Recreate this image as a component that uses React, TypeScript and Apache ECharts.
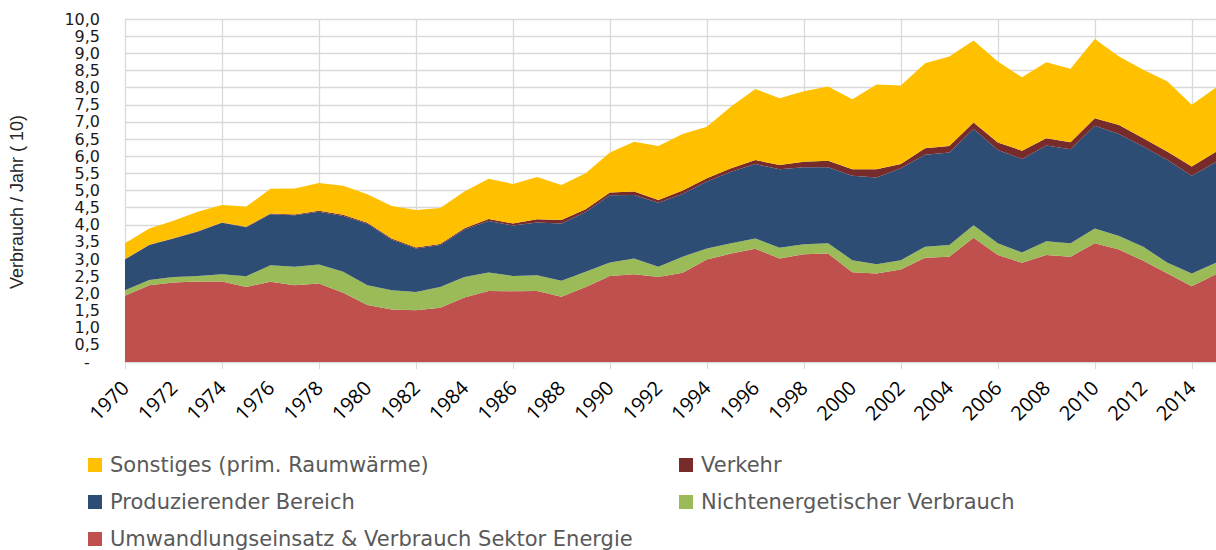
import React, { useEffect, useRef } from "react";
import * as echarts from "echarts";

const years: string[] = [];
for (let y = 1970; y <= 2015; y++) years.push(String(y));

const umwandlung = [
  1.93, 2.24, 2.32, 2.35, 2.35, 2.19, 2.34, 2.24, 2.29, 2.02,
  1.66, 1.53, 1.51, 1.58, 1.88, 2.07, 2.06, 2.07, 1.90, 2.19,
  2.51, 2.56, 2.48, 2.60, 2.99, 3.16, 3.30, 3.02, 3.14, 3.16,
  2.62, 2.58, 2.70, 3.04, 3.07, 3.62, 3.12, 2.89, 3.12, 3.07,
  3.46, 3.28, 2.95, 2.58, 2.21, 2.56,
];
const nichtenergetisch = [
  0.16, 0.15, 0.16, 0.16, 0.21, 0.31, 0.48, 0.54, 0.55, 0.61,
  0.58, 0.56, 0.53, 0.61, 0.60, 0.54, 0.45, 0.46, 0.47, 0.44,
  0.39, 0.46, 0.30, 0.47, 0.32, 0.30, 0.30, 0.31, 0.29, 0.30,
  0.35, 0.27, 0.27, 0.32, 0.34, 0.37, 0.34, 0.30, 0.40, 0.39,
  0.43, 0.39, 0.41, 0.31, 0.37, 0.33,
];
const produzierend = [
  0.90, 1.02, 1.12, 1.29, 1.50, 1.43, 1.49, 1.50, 1.54, 1.63,
  1.79, 1.48, 1.27, 1.22, 1.38, 1.50, 1.47, 1.54, 1.67, 1.74,
  1.96, 1.85, 1.86, 1.83, 1.95, 2.09, 2.17, 2.29, 2.25, 2.22,
  2.46, 2.53, 2.68, 2.68, 2.70, 2.80, 2.72, 2.73, 2.79, 2.74,
  3.00, 2.98, 2.92, 3.00, 2.85, 2.94,
];
const verkehr = [
  0.01, 0.01, 0.01, 0.01, 0.01, 0.01, 0.02, 0.02, 0.03, 0.03,
  0.03, 0.03, 0.03, 0.03, 0.04, 0.06, 0.06, 0.09, 0.10, 0.08,
  0.08, 0.10, 0.08, 0.10, 0.10, 0.10, 0.12, 0.12, 0.16, 0.19,
  0.19, 0.24, 0.12, 0.19, 0.19, 0.19, 0.22, 0.24, 0.21, 0.21,
  0.22, 0.26, 0.24, 0.24, 0.27, 0.30,
];
const sonstiges = [
  0.46, 0.47, 0.51, 0.57, 0.51, 0.59, 0.72, 0.76, 0.81, 0.85,
  0.83, 0.95, 1.09, 1.05, 1.07, 1.17, 1.15, 1.23, 1.02, 1.05,
  1.17, 1.45, 1.58, 1.65, 1.50, 1.80, 2.07, 1.95, 2.05, 2.16,
  2.04, 2.47, 2.29, 2.48, 2.61, 2.39, 2.36, 2.14, 2.22, 2.14,
  2.31, 2.00, 2.00, 2.05, 1.80, 1.87,
];

const names = {
  sonst: "Sonstiges (prim. Raumwärme)",
  verk: "Verkehr",
  prod: "Produzierender Bereich",
  nicht: "Nichtenergetischer Verbrauch",
  umw: "Umwandlungseinsatz & Verbrauch Sektor Energie",
};

const colors = {
  sonst: "#FFC000",
  verk: "#772B2B",
  prod: "#2E4D75",
  nicht: "#9BBB59",
  umw: "#C0504D",
};

export default function App() {
  const ref = useRef<HTMLDivElement>(null);
  useEffect(() => {
    if (!ref.current) return;
    const chart = echarts.init(ref.current, undefined, { renderer: "svg" });
    const mk = (name: string, data: number[], color: string) => ({
      name,
      type: "line",
      stack: "total",
      data,
      symbol: "none",
      showSymbol: false,
      lineStyle: { width: 0 },
      itemStyle: { color },
      areaStyle: { color, opacity: 1 },
      emphasis: { disabled: true },
    });
    const legendItem = (name: string, left: number, top: number) => ({
      orient: "horizontal",
      left,
      top,
      itemWidth: 14,
      itemHeight: 14,
      icon: "rect",
      data: [name],
      textStyle: {
        fontFamily: "DejaVu Sans",
        fontSize: 21,
        color: "#595959",
        lineHeight: 24,
        padding: [0, 0, 0, 3],
      },
      selectedMode: false,
    });
    chart.setOption({
      animation: false,
      grid: { left: 125, right: -5.6, top: 19, bottom: 188, containLabel: false },
      xAxis: {
        type: "category",
        data: years,
        boundaryGap: false,
        axisLine: { show: true, lineStyle: { color: "#D9D9D9", width: 1 } },
        axisTick: { show: true, interval: 3, length: 7, lineStyle: { color: "#D9D9D9" } },
        splitLine: { show: true, interval: 3, lineStyle: { color: "#D9D9D9", width: 1.3 } },
        axisLabel: {
          interval: 1,
          rotate: 45,
          margin: 22,
          fontFamily: "Open Sans",
          fontSize: 20,
          color: "#000000",
        },
      },
      yAxis: {
        type: "value",
        min: 0,
        max: 10,
        interval: 0.5,
        axisLine: { show: false },
        axisTick: { show: false },
        splitLine: { show: true, lineStyle: { color: "#D9D9D9", width: 1.3 } },
        axisLabel: {
          margin: 25,
          fontFamily: "DejaVu Sans",
          fontSize: 16,
          color: "#1a1a1a",
          formatter: (v: number) => (v === 0 ? "-  " : v.toFixed(1).replace(".", ",")),
        },
      },
      legend: [
        legendItem(names.sonst, 83, 448),
        legendItem(names.verk, 674, 448),
        legendItem(names.prod, 83, 485),
        legendItem(names.nicht, 674, 485),
        legendItem(names.umw, 83, 522),
      ],
      graphic: [
        {
          type: "text",
          x: 17,
          y: 202,
          rotation: Math.PI / 2,
          style: {
            text: "Verbrauch / Jahr ( 10)",
            fontFamily: "Liberation Sans",
            fontSize: 18,
            fill: "#262626",
            align: "center",
            verticalAlign: "middle",
          },
        },
      ],
      series: [
        mk(names.umw, umwandlung, colors.umw),
        mk(names.nicht, nichtenergetisch, colors.nicht),
        mk(names.prod, produzierend, colors.prod),
        mk(names.verk, verkehr, colors.verk),
        mk(names.sonst, sonstiges, colors.sonst),
      ],
    });
    return () => chart.dispose();
  }, []);
  return (
    <div
      ref={ref}
      style={{ position: "absolute", left: 0, top: 0, width: 1216, height: 550, overflow: "hidden" }}
    />
  );
}
